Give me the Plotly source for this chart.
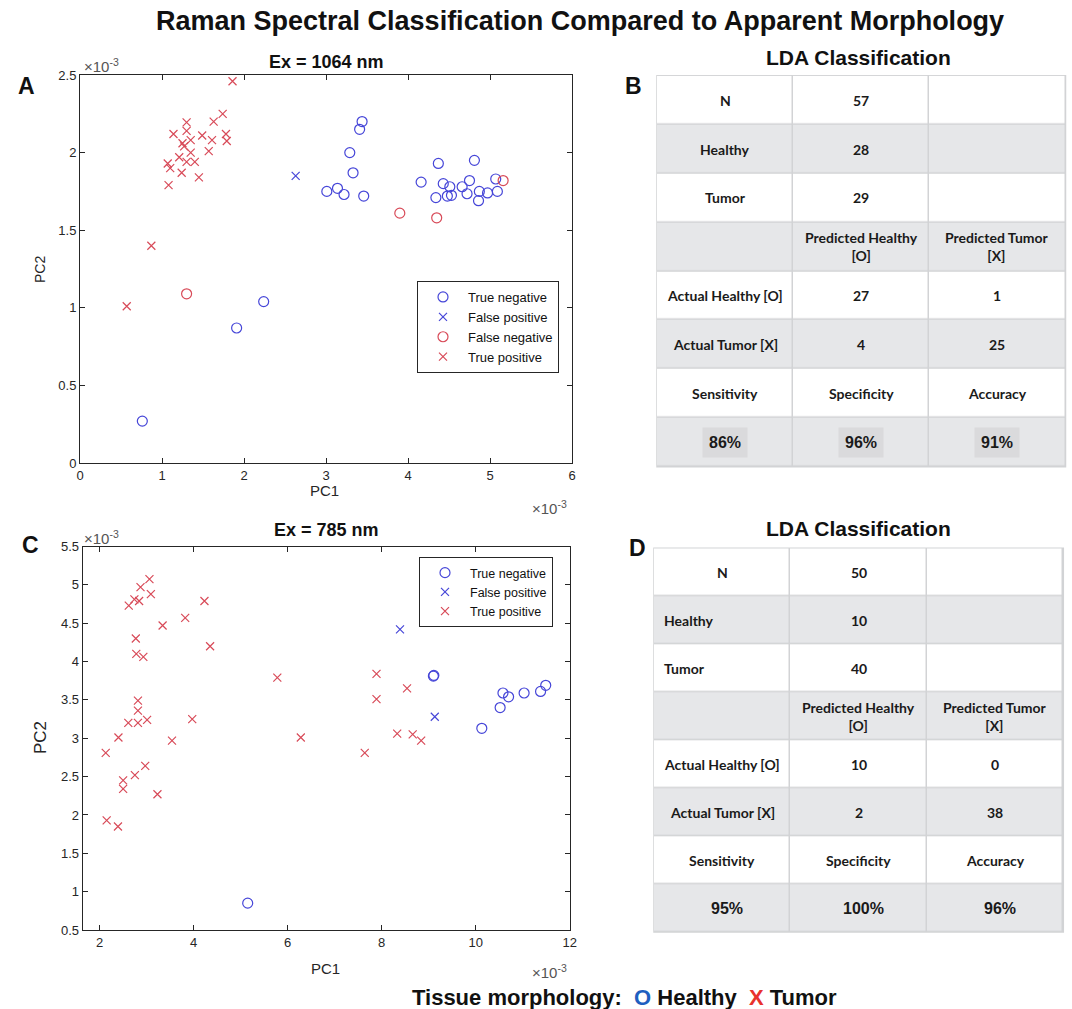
import plotly.graph_objects as go

W, H = 1072, 1009

# ---------------- Panel A : Ex = 1064 nm (values in units of 1e-3) ----------------
a_tn_pc1 = [3.44, 3.41, 3.29, 3.33, 3.01, 3.14, 3.22, 3.46, 4.37, 4.81, 4.16, 4.43, 4.51, 4.34,
            4.48, 4.53, 4.66, 4.75, 4.72, 4.87, 4.86, 4.97, 5.07, 5.09, 0.76, 1.91, 2.24]
a_tn_pc2 = [2.20, 2.15, 2.00, 1.87, 1.75, 1.77, 1.73, 1.72, 1.93, 1.95, 1.81, 1.80, 1.78, 1.71,
            1.72, 1.725, 1.78, 1.82, 1.735, 1.75, 1.69, 1.74, 1.83, 1.75, 0.27, 0.87, 1.04]
a_fp_pc1 = [2.63]
a_fp_pc2 = [1.85]
a_fn_pc1 = [1.30, 3.90, 4.35, 5.16]
a_fn_pc2 = [1.09, 1.61, 1.58, 1.82]
a_tp_pc1 = [1.86, 1.74, 1.63, 1.30, 1.30, 1.14, 1.49, 1.78, 1.79, 1.25, 1.35, 1.61, 1.27,
            1.35, 1.57, 1.21, 1.30, 1.40, 1.07, 1.10, 1.24, 1.45, 1.08, 0.87, 0.57]
a_tp_pc2 = [2.46, 2.25, 2.20, 2.195, 2.14, 2.12, 2.11, 2.12, 2.075, 2.06, 2.08, 2.08, 2.04,
            2.00, 2.01, 1.97, 1.94, 1.94, 1.93, 1.90, 1.87, 1.84, 1.79, 1.40, 1.01]

# ---------------- Panel C : Ex = 785 nm (values in units of 1e-3) ----------------
c_tn_pc1 = [5.15, 9.10, 9.11, 10.13, 10.52, 10.58, 10.70, 11.03, 11.38, 11.49]
c_tn_pc2 = [0.85, 3.81, 3.82, 3.13, 3.40, 3.59, 3.54, 3.59, 3.61, 3.69]
c_fp_pc1 = [8.39, 9.13]
c_fp_pc2 = [4.42, 3.28]
c_tp_pc1 = [3.06, 2.87, 3.09, 2.74, 2.84, 2.62, 4.23, 3.82, 3.34, 2.77, 4.35, 2.78, 2.93, 5.78,
            2.815, 2.815, 2.61, 2.815, 3.01, 3.97, 2.40, 2.13, 3.54, 6.28, 2.97, 2.75, 2.50,
            2.50, 3.23, 2.15, 2.39, 7.89, 8.54, 7.89, 7.64, 8.33, 8.66, 8.84]
c_tp_pc2 = [5.075, 4.97, 4.88, 4.81, 4.79, 4.73, 4.79, 4.57, 4.47, 4.30, 4.20, 4.10, 4.06, 3.79,
            3.49, 3.36, 3.20, 3.20, 3.24, 3.25, 3.01, 2.81, 2.97, 3.01, 2.64, 2.52, 2.45,
            2.34, 2.27, 1.93, 1.85, 3.84, 3.65, 3.51, 2.81, 3.06, 3.05, 2.97]

# ---------------- Tables B and D ----------------
b_col0 = ["N", "Healthy", "Tumor", "", "Actual Healthy [O]", "Actual Tumor [X]", "Sensitivity", "86%"]
b_col1 = ["57", "28", "29", "Predicted Healthy<br>[O]", "27", "4", "Specificity", "96%"]
b_col2 = ["", "", "", "Predicted Tumor<br>[X]", "1", "25", "Accuracy", "91%"]
d_col0 = ["N", "Healthy", "Tumor", "", "Actual Healthy [O]", "Actual Tumor [X]", "Sensitivity", "95%"]
d_col1 = ["50", "10", "40", "Predicted Healthy<br>[O]", "10", "2", "Specificity", "100%"]
d_col2 = ["", "", "", "Predicted Tumor<br>[X]", "0", "38", "Accuracy", "96%"]
row_shade = [0, 1, 0, 1, 0, 1, 0, 1]

BLUE = "#4646d8"
RED = "#d84a58"
AX = "#262626"
FONT = "Liberation Sans, Arial, sans-serif"
TFONT = "Lato, Noto Sans, sans-serif"


def px(p):
    return p / W


def py(p):
    return 1 - p / H


fig = go.Figure()


def add_scatter(x, y, name, color, symbol, xa, ya, legend, size):
    fig.add_trace(go.Scatter(
        x=x, y=y, mode="markers", name=name, xaxis=xa, yaxis=ya, legend=legend,
        marker=dict(symbol=symbol, size=size, color=color, line=dict(color=color, width=1.2)),
        hoverinfo="skip"))


add_scatter(a_tn_pc1, a_tn_pc2, "True negative", BLUE, "circle-open", "x", "y", "legend", 10)
add_scatter(a_fp_pc1, a_fp_pc2, "False positive", BLUE, "x-thin-open", "x", "y", "legend", 8)
add_scatter(a_fn_pc1, a_fn_pc2, "False negative", RED, "circle-open", "x", "y", "legend", 10)
add_scatter(a_tp_pc1, a_tp_pc2, "True positive", RED, "x-thin-open", "x", "y", "legend", 8)

add_scatter(c_tn_pc1, c_tn_pc2, "True negative", BLUE, "circle-open", "x2", "y2", "legend2", 10)
add_scatter(c_fp_pc1, c_fp_pc2, "False positive", BLUE, "x-thin-open", "x2", "y2", "legend2", 8)
add_scatter(c_tp_pc1, c_tp_pc2, "True positive", RED, "x-thin-open", "x2", "y2", "legend2", 8)

# table cells as heatmaps
for xa, ya in (("x3", "y3"), ("x4", "y4")):
    fig.add_trace(go.Heatmap(
        z=[[s, s, s] for s in row_shade], x=[0, 1, 2], y=list(range(len(row_shade))),
        xaxis=xa, yaxis=ya, colorscale=[[0, "#ffffff"], [1, "#e6e7e9"]], zmin=0, zmax=1,
        showscale=False, xgap=1.5, ygap=1.5, hoverinfo="skip", showlegend=False))

ax_style = dict(showline=True, linecolor=AX, linewidth=1, mirror="ticks", ticks="inside",
                ticklen=5, tickcolor=AX, tickwidth=1,
                tickfont=dict(family=FONT, size=13, color=AX),
                showgrid=False, zeroline=False, automargin=False)
hidden = dict(visible=False, showgrid=False, zeroline=False, automargin=False)

annotations = []


def ann(text, x, y, size, bold=False, color="#111111", font=FONT, **kw):
    annotations.append(dict(
        text=("<b>%s</b>" % text) if bold else text, x=px(x), y=py(y), xref="paper", yref="paper",
        showarrow=False, xanchor=kw.pop("xanchor", "center"), yanchor=kw.pop("yanchor", "middle"),
        font=dict(family=font, size=size, color=color), **kw))


ann("Raman Spectral Classification Compared to Apparent Morphology", 580, 21, 27, bold=True)
ann("Ex = 1064 nm", 326, 62, 18, bold=True)
ann("Ex = 785 nm", 326, 530, 18, bold=True)
ann("A", 26, 86, 23, bold=True)
ann("B", 633, 86, 23, bold=True)
ann("C", 30, 545, 23, bold=True)
ann("D", 637, 548, 23, bold=True)
ann("LDA Classification", 858, 58, 21, bold=True)
ann("LDA Classification", 858, 528, 21, bold=True)
ann("PC1", 324, 490, 15, color=AX)
ann("PC2", 40, 270, 14, color=AX, textangle=-90)
ann("PC1", 325, 968, 15, color=AX)
ann("PC2", 40, 738, 17, color=AX, textangle=-90)
for (x, y) in ((101, 65), (549, 507), (101, 537), (549, 971)):
    ann("×10<sup>-3</sup>", x, y, 15, color="#555555")
ann("Tissue morphology:  <span style='color:#1f5fc0'>O</span> Healthy  "
    "<span style='color:#e8322d'>X</span> Tumor", 624, 997, 22, bold=True)

# table text
for xa, ya, cols, left_rows, hl in (("x3", "y3", (b_col0, b_col1, b_col2), (), True),
                                    ("x4", "y4", (d_col0, d_col1, d_col2), (1, 2), False)):
    for ci, col in enumerate(cols):
        for ri, txt in enumerate(col):
            if not txt:
                continue
            last = ri == len(col) - 1
            left = ci == 0 and ri in left_rows
            d = dict(text="<b>%s</b>" % txt, x=(ci - 0.44) if left else ci, y=ri,
                     xref=xa, yref=ya, showarrow=False,
                     xanchor="left" if left else "center", yanchor="middle",
                     font=dict(family=FONT if last else TFONT, size=16 if last else 14,
                               color="#1a1a1a"))
            if last and hl:
                d.update(bgcolor="#dadadc", borderpad=6)
            if last and not hl:
                d["xshift"] = 5
            annotations.append(d)

shapes = []
for xa, ya in (("x3", "y3"), ("x4", "y4")):
    shapes.append(dict(type="rect", xref=xa + " domain", yref=ya + " domain", x0=0, x1=1, y0=0, y1=1,
                       fillcolor="#d2d3d5", line=dict(color="#d2d3d5", width=1.5), layer="below"))

legend_style = dict(bgcolor="white", bordercolor=AX, borderwidth=1,
                    xanchor="left", yanchor="top", tracegroupgap=0, itemwidth=40)

fig.update_layout(
    width=W, height=H, margin=dict(l=0, r=0, t=0, b=0),
    paper_bgcolor="white", plot_bgcolor="white",
    xaxis=dict(domain=[px(80), px(572)], range=[0, 6], dtick=1, anchor="y", **ax_style),
    yaxis=dict(domain=[py(463), py(75)], range=[0, 2.5], dtick=0.5, anchor="x", **ax_style),
    xaxis2=dict(domain=[px(82.7), px(569.7)], range=[1.64, 12], tick0=2, dtick=2, anchor="y2", **ax_style),
    yaxis2=dict(domain=[py(930), py(546.5)], range=[0.5, 5.5], dtick=0.5, anchor="x2", **ax_style),
    xaxis3=dict(domain=[px(657), px(1065.5)], range=[-0.5, 2.5], anchor="y3", **hidden),
    yaxis3=dict(domain=[py(466.7), py(75.7)], range=[7.5, -0.5], anchor="x3", **hidden),
    xaxis4=dict(domain=[px(654), px(1063.3)], range=[-0.5, 2.5], anchor="y4", **hidden),
    yaxis4=dict(domain=[py(932), py(548.3)], range=[7.5, -0.5], anchor="x4", **hidden),
    legend=dict(x=px(417), y=py(281), font=dict(family=FONT, size=13, color="#111111"), **legend_style),
    legend2=dict(x=px(419), y=py(557), font=dict(family=FONT, size=12.5, color="#111111"), **legend_style),
    annotations=annotations, shapes=shapes, hovermode=False,
)

fig.write_html("out.html", config={"displayModeBar": False},
               post_script="document.body.style.margin='0';document.body.style.padding='0';")
